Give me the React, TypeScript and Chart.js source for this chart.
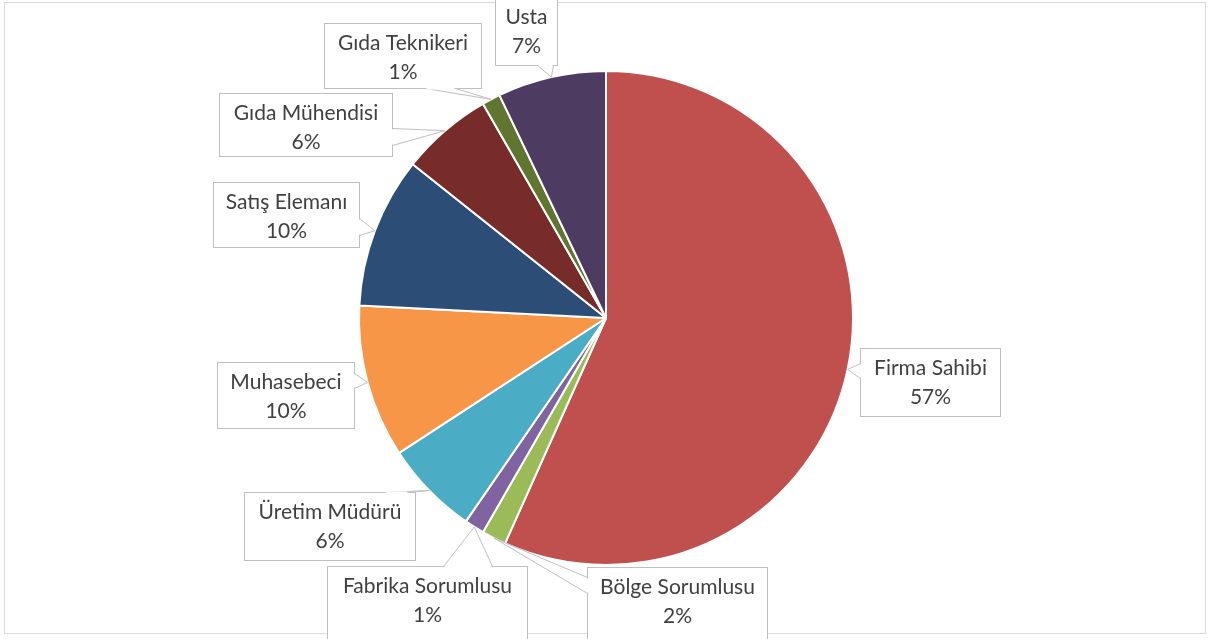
import React, { useEffect, useRef } from "react";
import { Chart, registerables } from "chart.js";

Chart.register(...registerables);

const categories = [
  "Firma Sahibi",
  "Bölge Sorumlusu",
  "Fabrika Sorumlusu",
  "Üretim Müdürü",
  "Muhasebeci",
  "Satış Elemanı",
  "Gıda Mühendisi",
  "Gıda Teknikeri",
  "Usta",
];
const shares = [56.7, 1.6, 1.3, 6.2, 10.0, 9.9, 6.0, 1.2, 7.1];
const colors = [
  "#C0504D",
  "#9BBB59",
  "#8064A2",
  "#4BACC6",
  "#F79646",
  "#2C4D75",
  "#772C2A",
  "#5F7530",
  "#4D3B62",
];

// callout layout: box [x, y, w, h] and wedge base points
const calloutBoxes = [
  [860, 348, 140, 68],
  [587, 567, 180, 80],
  [327, 566, 200, 80],
  [244, 492, 171, 68],
  [217, 362, 137, 66],
  [213, 182, 146, 65],
  [219, 93, 173, 63],
  [324, 23, 157, 65],
  [495, -3, 62, 68],
];
const calloutBases = [
  [[860, 363], [860, 378]],
  [[587, 577], [587, 593]],
  [[443, 566], [492, 566]],
  [[385, 492], [408, 492]],
  [[354, 373], [354, 388]],
  [[359, 218], [359, 235]],
  [[392, 128], [392, 145]],
  [[425, 88], [455, 88]],
  [[537, 65], [553, 65]],
];

const FONT = "21px Lato, 'Open Sans', sans-serif";

const calloutPlugin = {
  id: "callouts",
  beforeDraw(chart: any) {
    const ctx = chart.ctx;
    ctx.save();
    ctx.fillStyle = "#ffffff";
    ctx.fillRect(0, 0, chart.width, chart.height);
    ctx.strokeStyle = "#d9d9d9";
    ctx.lineWidth = 1;
    ctx.strokeRect(4.5, 2.5, 1201, 631);
    ctx.restore();
  },
  afterDatasetsDraw(chart: any) {
    const ctx = chart.ctx;
    const meta = chart.getDatasetMeta(0);
    const values = chart.data.datasets[0].data as number[];
    const total = values.reduce((a, b) => a + b, 0);
    ctx.save();
    meta.data.forEach((arc: any, i: number) => {
      const p = arc.getProps(["x", "y", "startAngle", "endAngle", "outerRadius"], true);
      const mid = (p.startAngle + p.endAngle) / 2;
      const tip = [p.x + Math.cos(mid) * p.outerRadius, p.y + Math.sin(mid) * p.outerRadius];
      const [bx, by, bw, bh] = calloutBoxes[i];
      const [b1, b2] = calloutBases[i];
      ctx.fillStyle = "#ffffff";
      ctx.fillRect(bx, by, bw, bh);
      ctx.beginPath();
      ctx.moveTo(b1[0], b1[1]);
      ctx.lineTo(tip[0], tip[1]);
      ctx.lineTo(b2[0], b2[1]);
      ctx.closePath();
      ctx.fill();
      ctx.strokeStyle = "#bfbfbf";
      ctx.lineWidth = 1;
      ctx.strokeRect(bx + 0.5, by + 0.5, bw, bh);
      ctx.beginPath();
      ctx.moveTo(b1[0] + 0.5, b1[1] + 0.5);
      ctx.lineTo(tip[0], tip[1]);
      ctx.lineTo(b2[0] + 0.5, b2[1] + 0.5);
      ctx.stroke();
      const dx = b2[0] - b1[0];
      const dy = b2[1] - b1[1];
      const len = Math.hypot(dx, dy) || 1;
      const ux = dx / len;
      const uy = dy / len;
      ctx.strokeStyle = "#ffffff";
      ctx.lineWidth = 2;
      ctx.beginPath();
      ctx.moveTo(b1[0] + 0.5 + ux * 1, b1[1] + 0.5 + uy * 1);
      ctx.lineTo(b2[0] + 0.5 - ux * 1, b2[1] + 0.5 - uy * 1);
      ctx.stroke();
      const pct = Math.round((values[i] / total) * 100) + "%";
      ctx.fillStyle = "#404040";
      ctx.font = FONT;
      ctx.textAlign = "center";
      ctx.textBaseline = "middle";
      const cx = bx + bw / 2 + 0.5;
      ctx.fillText(categories[i], cx, by + 20.5);
      ctx.fillText(pct, cx, by + 49.5);
    });
    ctx.restore();
  },
};

export default function App() {
  const canvasRef = useRef<HTMLCanvasElement | null>(null);
  useEffect(() => {
    document.body.style.margin = "0";
    const canvas = canvasRef.current;
    if (!canvas) return;
    const chart = new Chart(canvas, {
      type: "pie",
      data: {
        labels: categories,
        datasets: [
          {
            data: shares,
            backgroundColor: colors,
            borderColor: "#ffffff",
            borderWidth: 2,
            hoverOffset: 0,
          },
        ],
      },
      options: {
        responsive: false,
        animation: false,
        layout: { padding: { top: 70, bottom: 73, left: 100, right: 103 } },
        plugins: {
          legend: { display: false },
          tooltip: { enabled: false },
          title: { display: false },
        },
      },
      plugins: [calloutPlugin],
    });
    return () => chart.destroy();
  }, []);
  return (
    <div style={{ width: 1215, height: 639, position: "relative" }}>
      <canvas ref={canvasRef} width={1215} height={639} style={{ display: "block" }} />
    </div>
  );
}
